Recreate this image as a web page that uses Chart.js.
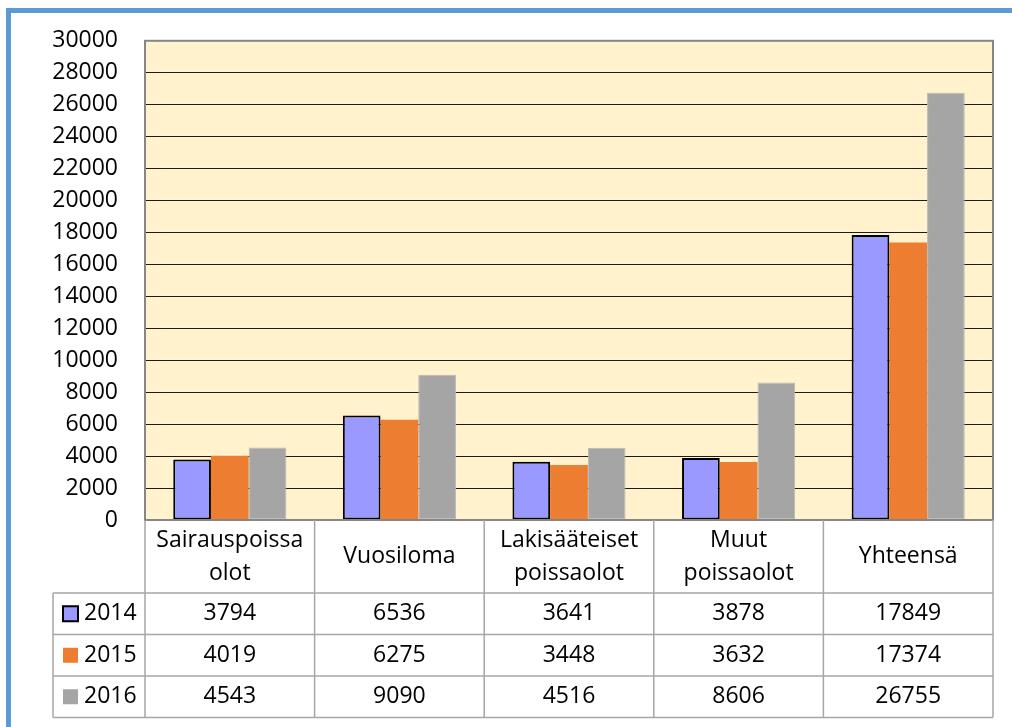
<!DOCTYPE html>
<html>
<head>
<meta charset="utf-8">
<script src="https://cdn.jsdelivr.net/npm/chart.js@4"></script>
<style>
  html, body { margin: 0; padding: 0; background: #fff; }
  #wrap { position: relative; width: 1012px; height: 727px; }
</style>
</head>
<body>
<div id="wrap"><canvas id="chart" width="1012" height="727"></canvas></div>
<script>
// ── Data ──────────────────────────────────────────────────────────────────────
const categories = [
  ['Sairauspoissa', 'olot'],
  ['Vuosiloma'],
  ['Lakisääteiset', 'poissaolot'],
  ['Muut', 'poissaolot'],
  ['Yhteensä'],
];
const seriesNames = ['2014', '2015', '2016'];
const values2014 = [3794, 6536, 3641, 3878, 17849];
const values2015 = [4019, 6275, 3448, 3632, 17374];
const values2016 = [4543, 9090, 4516, 8606, 26755];
const yTicks = [0, 2000, 4000, 6000, 8000, 10000, 12000, 14000, 16000, 18000, 20000, 22000, 24000, 26000, 28000, 30000];

// ── Style ─────────────────────────────────────────────────────────────────────
const FONT = '"Open Sans", "DejaVu Sans", sans-serif';
const FONT_SIZE = 23;
const colors = ['#9999FF', '#ED7D31', '#A5A5A5'];
const borders = ['#000000', '#ED7D31', '#B8B8B8'];
const HEADER_H = 73;
const ROW_H = 41.5;
const LEGEND_LEFT = 53;

// ── Plugin: frame, plot background, data table ────────────────────────────────
const tablePlugin = {
  id: 'dataTable',
  beforeDraw(chart) {
    const { ctx, chartArea: a } = chart;
    ctx.save();
    ctx.fillStyle = '#5B9BD5';
    ctx.fillRect(6, 8, 1012, 5);
    ctx.fillRect(6, 8, 5, 727);
    ctx.fillStyle = '#FFF2CC';
    ctx.fillRect(a.left, a.top, a.right - a.left, a.bottom - a.top);
    ctx.restore();
  },
  afterDraw(chart) {
    const { ctx, chartArea: a } = chart;
    const x = chart.scales.x;
    const n = categories.length;
    const colW = (a.right - a.left) / n;
    const top = a.bottom;
    const hdrBottom = top + HEADER_H;
    const tableBottom = hdrBottom + ROW_H * seriesNames.length;

    ctx.save();
    // plot border
    ctx.strokeStyle = '#868686';
    ctx.lineWidth = 2;
    ctx.strokeRect(a.left, a.top, a.right - a.left, a.bottom - a.top);

    // table grid
    ctx.strokeStyle = '#A6A6A6';
    ctx.lineWidth = 1.5;
    ctx.beginPath();
    for (let i = 0; i <= n; i++) {
      const px = a.left + i * colW;
      ctx.moveTo(px, top);
      ctx.lineTo(px, tableBottom);
    }
    ctx.moveTo(LEGEND_LEFT, hdrBottom);
    ctx.lineTo(LEGEND_LEFT, tableBottom);
    for (let r = 0; r <= seriesNames.length; r++) {
      const py = hdrBottom + r * ROW_H;
      ctx.moveTo(LEGEND_LEFT, py);
      ctx.lineTo(a.right, py);
    }
    ctx.stroke();

    // header text
    ctx.fillStyle = '#000';
    ctx.font = FONT_SIZE + 'px ' + FONT;
    ctx.textAlign = 'center';
    ctx.textBaseline = 'middle';
    const lineH = 33;
    categories.forEach((lines, i) => {
      const cx = x.getPixelForValue(i);
      const cy = top + HEADER_H / 2;
      lines.forEach((t, k) => {
        ctx.fillText(t, cx, cy + (k - (lines.length - 1) / 2) * lineH);
      });
    });

    // rows
    const seriesVals = [values2014, values2015, values2016];
    seriesNames.forEach((name, r) => {
      const cy = hdrBottom + r * ROW_H + ROW_H / 2;
      // legend key
      ctx.fillStyle = colors[r];
      ctx.fillRect(63, cy - 7.5, 15, 15);
      if (r === 0) {
        ctx.strokeStyle = '#000';
        ctx.lineWidth = 2;
        ctx.strokeRect(63, cy - 7.5, 15, 15);
      }
      ctx.fillStyle = '#000';
      ctx.textAlign = 'left';
      ctx.fillText(name, 84, cy);
      ctx.textAlign = 'center';
      seriesVals[r].forEach((v, i) => {
        ctx.fillText(String(v), x.getPixelForValue(i), cy);
      });
    });
    ctx.restore();
  }
};

// ── Chart ─────────────────────────────────────────────────────────────────────
const datasets = [values2014, values2015, values2016].map((data, i) => ({
  label: seriesNames[i],
  data,
  backgroundColor: colors[i],
  borderColor: borders[i],
  borderWidth: i === 0 ? 2 : (i === 2 ? 1 : 0),
  borderSkipped: false,
  barPercentage: 1,
  categoryPercentage: 0.667,
}));

new Chart(document.getElementById('chart'), {
  type: 'bar',
  data: { labels: categories, datasets },
  options: {
    responsive: false,
    animation: false,
    devicePixelRatio: 1,
    layout: { padding: { left: 0, right: 19, top: 40, bottom: 207 } },
    plugins: {
      legend: { display: false },
      tooltip: { enabled: false },
    },
    scales: {
      x: {
        ticks: { display: false },
        grid: { display: false, drawTicks: false },
        border: { display: false },
      },
      y: {
        min: 0,
        max: 30000,
        afterBuildTicks: s => { s.ticks = yTicks.map(v => ({ value: v })); },
        afterFit: s => { s.width = 145; },
        ticks: {
          color: '#000',
          padding: 27,
          font: { family: FONT, size: FONT_SIZE },
          callback: v => String(v),
        },
        grid: { color: '#1a1a1a', lineWidth: 1, drawTicks: false },
        border: { display: false },
      },
    },
  },
  plugins: [tablePlugin],
});
</script>
</body>
</html>
